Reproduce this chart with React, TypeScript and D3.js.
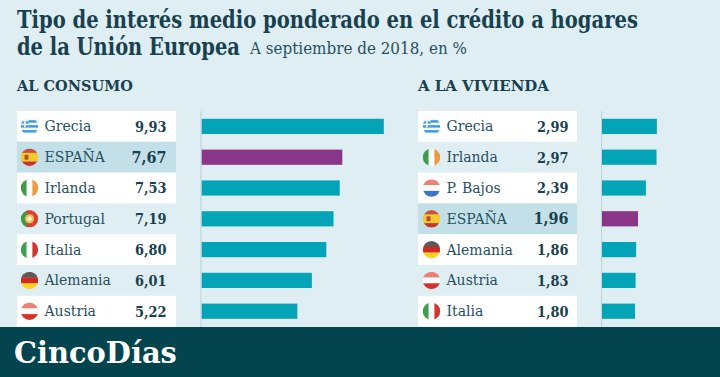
import React, { useLayoutEffect, useRef, useState } from "react";
import * as d3 from "d3";

const consumoNames = ["Grecia", "ESPAÑA", "Irlanda", "Portugal", "Italia", "Alemania", "Austria"];
const consumoValues = [9.93, 7.67, 7.53, 7.19, 6.8, 6.01, 5.22];
const viviendaNames = ["Grecia", "Irlanda", "P. Bajos", "ESPAÑA", "Alemania", "Austria", "Italia"];
const viviendaValues = [2.99, 2.97, 2.39, 1.96, 1.86, 1.83, 1.8];

const INK = "#17414f";
const NAME_INK = "#27505f";
const SERIF = "'DejaVu Serif', serif";
const fmt = (v: number) => v.toFixed(2).replace(".", ",");

const x = d3.scaleLinear().domain([0, 10]).range([0, 183.6]);
const y = d3.scaleBand<number>().domain(d3.range(7)).range([111, 326.6]).padding(0);

function FitText({ x: tx, y: ty, w, children, ...rest }: any) {
  const ref = useRef<SVGTextElement>(null);
  const [s, setS] = useState(1);
  useLayoutEffect(() => {
    if (ref.current) setS(w / ref.current.getComputedTextLength());
  }, [w, children]);
  return (
    <text ref={ref} transform={`translate(${tx},${ty}) scale(${s},1)`} fontFamily={SERIF} {...rest}>{children}</text>
  );
}

function hStripes(r: number, colors: string[]) {
  const s = d3.scaleBand<number>().domain(d3.range(colors.length)).range([-r, r]);
  return colors.map((c, i) => <rect key={i} x={-r} y={s(i)} width={2 * r} height={s.bandwidth() + 0.3} fill={c} />);
}
function vStripes(r: number, colors: string[]) {
  const s = d3.scaleBand<number>().domain(d3.range(colors.length)).range([-r, r]);
  return colors.map((c, i) => <rect key={i} x={s(i)} y={-r} width={s.bandwidth() + 0.3} height={2 * r} fill={c} />);
}

function flagBody(name: string, r: number) {
  switch (name) {
    case "Grecia":
      return (
        <>
          {hStripes(r, ["#f2f8fb", "#3d9ad6", "#f2f8fb", "#3d9ad6", "#f2f8fb", "#3d9ad6", "#f2f8fb"])}
          <rect x={-r} y={-r} width={r - 1} height={r + 1} fill="#f2f8fb" />
          <rect x={-r} y={-5} width={r - 1} height={6} fill="#3d9ad6" />
          <rect x={-r} y={-2.8} width={r - 1} height={1.6} fill="#f2f8fb" />
          <rect x={-5.4} y={-5} width={1.6} height={6} fill="#f2f8fb" />
        </>
      );
    case "ESPAÑA":
      return (
        <>
          {hStripes(r, ["#c8503f", "#f5c92e", "#f5c92e", "#c8342b"])}
          <rect x={-5} y={-2.5} width={4} height={5} rx={1} fill="#b5502a" />
        </>
      );
    case "Irlanda":
      return vStripes(r, ["#3f9a4c", "#fbfdfb", "#ee9a3e"]);
    case "Portugal":
      return (
        <>
          {vStripes(r, ["#3e9a46", "#d9402f", "#d9402f"])}
          <circle r={4.6} fill="#f0c24c" />
          <circle r={2.4} fill="#f4f1e6" />
        </>
      );
    case "Italia":
      return vStripes(r, ["#3f9c50", "#fbfdfb", "#d2342f"]);
    case "Alemania":
      return hStripes(r, ["#5a5a5a", "#d3271f", "#f7d31f"]);
    case "Austria":
      return hStripes(r, ["#ec8074", "#fbfbfb", "#d8302a"]);
    case "P. Bajos":
      return hStripes(r, ["#ec8074", "#fbfbfb", "#3f74c8"]);
    default:
      return null;
  }
}

function Flag({ name, cx, cy, id }: { name: string; cx: number; cy: number; id: string }) {
  const r = 8.7;
  return (
    <g transform={`translate(${cx},${cy})`}>
      <clipPath id={id}><circle r={r} /></clipPath>
      <g clipPath={`url(#${id})`}>{flagBody(name, r)}</g>
    </g>
  );
}

function Panel({ names, values, left, barLeft, inset, tag, title, titleW }: { names: string[]; values: number[]; left: number; barLeft: number; inset: number; tag: string; title: string; titleW: number }) {
  const tableW = 159;
  const h = y.bandwidth();
  return (
    <g>
      <FitText x={left} y={91} w={titleW} fontWeight={700} fontSize={15.6} fill={INK}>{title}</FitText>
      {names.map((n, i) => {
        const spain = n === "ESPAÑA";
        const white = i % 2 === 0;
        const fill = spain ? "#c3dfe8" : white ? "#ffffff" : "none";
        const top = y(i)!;
        const cy = top + h / 2;
        return (
          <g key={n}>
            <rect x={left} y={top} width={tableW} height={h} fill={fill} />
            <Flag name={n} cx={left + 12 + inset} cy={cy} id={`${tag}${i}`} />
            <text x={left + 27 + inset} y={cy + 5} fontFamily={SERIF} fontSize={14} fill={NAME_INK}>{n}</text>
            <FitText x={left + tableW - 10 + inset} y={cy + 5.4} w={spain ? 35 : 31.5} textAnchor="end" fontWeight={700} fontSize={spain ? 17 : 15.4} fill={INK}>{fmt(values[i])}</FitText>
            <rect x={barLeft} y={cy - 7.6} width={x(values[i])} height={15.2} fill={spain ? "#8b3589" : "#04a4b8"} />
          </g>
        );
      })}
      <line x1={barLeft - 0.5} x2={barLeft - 0.5} y1={111} y2={327} stroke="#b9d2dc" strokeWidth={1} />
    </g>
  );
}

export default function App() {
  return (
    <svg width={720} height={377} style={{ position: "absolute", left: 0, top: 0, display: "block" }}>
      <rect width={720} height={377} fill="#dfeef3" />
      <FitText x={17} y={27.5} w={621} fontWeight={700} fontSize={23.5} fill={INK}>Tipo de interés medio ponderado en el crédito a hogares</FitText>
      <FitText x={17} y={54.5} w={223} fontWeight={700} fontSize={23.5} fill={INK}>de la Unión Europea</FitText>
      <FitText x={250} y={54} w={217} fontSize={16} fill={NAME_INK}>A septiembre de 2018, en %</FitText>
      <Panel names={consumoNames} values={consumoValues} left={17} barLeft={201.5} inset={0.5} tag="c" title="AL CONSUMO" titleW={116} />
      <Panel names={viviendaNames} values={viviendaValues} left={418} barLeft={602} inset={1.5} tag="v" title="A LA VIVIENDA" titleW={131} />
      <rect x={0} y={327} width={720} height={50} fill="#03444f" />
      <FitText x={14} y={363} w={163} fontWeight={700} fontSize={29.5} fill="#ffffff">CincoDías</FitText>
    </svg>
  );
}
